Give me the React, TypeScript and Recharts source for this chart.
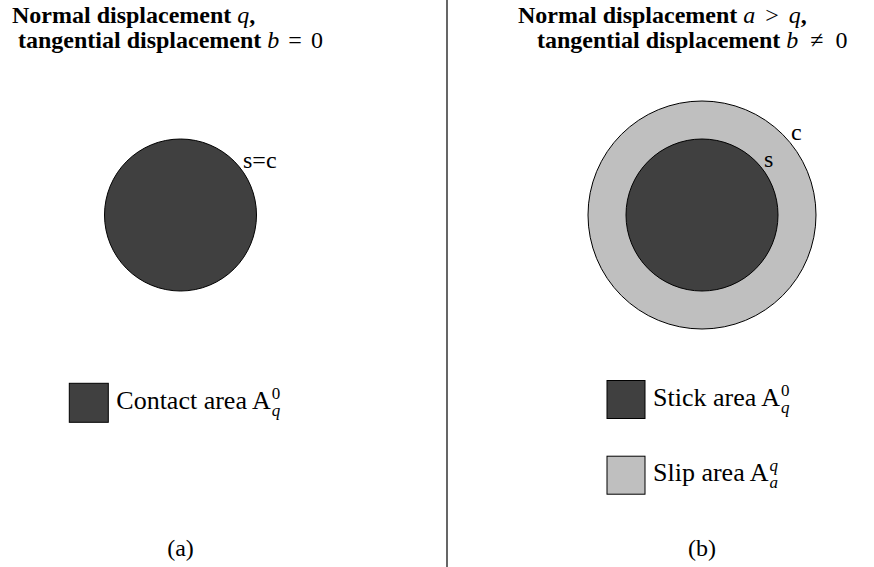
import { ReferenceLine, Scatter, ScatterChart, XAxis, YAxis } from 'recharts';

const WIDTH = 874;
const HEIGHT = 567;

// the diagram is drawn in page pixels: x 0..874, y 0..567 (top down)
const CIRCLE_NAMES = ['contact', 'slip', 'stick'];
const CIRCLE_X = [180.5, 702, 702];
const CIRCLE_Y = [215, 215, 215];
const CIRCLE_R = [76, 114, 76];

const KEY_NAMES = ['contact', 'stick', 'slip'];
const KEY_TEXT = ['Contact area A', 'Stick area A', 'Slip area A'];
const KEY_SUP = ['0', '0', 'q'];
const KEY_SUB = ['q', 'q', 'a'];
const KEY_X = [88.8, 626, 626];
const KEY_Y = [402.8, 399.5, 475.2];
const KEY_SIZE = [39, 38, 38];

const BOUNDARY_TEXT = ['s=c', 'c', 's'];
const BOUNDARY_X = [243, 791, 764];
const BOUNDARY_Y = [168, 140, 167];

const PANEL_TEXT = ['(a)', '(b)'];
const PANEL_X = [180.5, 702];
const PANEL_Y = 556;

const DIVIDER_X = 447;

const FILLS: Record<string, string> = {
  contact: '#404040',
  stick: '#404040',
  slip: '#bfbfbf',
};

const circles = CIRCLE_NAMES.map((name, i) => ({ name, x: CIRCLE_X[i], y: CIRCLE_Y[i], r: CIRCLE_R[i] }));
const keys = KEY_NAMES.map((name, i) => ({ name, x: KEY_X[i], y: KEY_Y[i], size: KEY_SIZE[i] }));

const FONT = '"Liberation Serif", "Times New Roman", serif';

// one data unit is one pixel on both axes, so radii can be used as they are
const CircleShape = (props: any) => {
  const { cx, cy, payload } = props;
  return <circle cx={cx} cy={cy} r={payload.r} fill={FILLS[payload.name]} stroke="#000" strokeWidth={1} />;
};

const KeyShape = (props: any) => {
  const { cx, cy, payload } = props;
  const s = payload.size;
  return <rect x={cx - s / 2} y={cy - s / 2} width={s} height={s} fill={FILLS[payload.name]} stroke="#000" strokeWidth={1} />;
};

const math = { fontStyle: 'italic', fontWeight: 'normal' } as const;

export default function App() {
  return (
    <div style={{ position: 'absolute', left: 0, top: 0, width: WIDTH, height: HEIGHT, background: '#fff' }}>
      <ScatterChart width={WIDTH} height={HEIGHT} margin={{ top: 0, right: 0, bottom: 0, left: 0 }}>
        <XAxis type="number" dataKey="x" domain={[0, WIDTH]} allowDataOverflow hide />
        <YAxis type="number" dataKey="y" domain={[0, HEIGHT]} reversed allowDataOverflow hide />
        <ReferenceLine x={DIVIDER_X} stroke="#000" strokeWidth={1.2} />
        <Scatter data={circles} shape={CircleShape} isAnimationActive={false} />
        <Scatter data={keys} shape={KeyShape} isAnimationActive={false} />
      </ScatterChart>

      {/* text sits on its own layer so the circles never cover it */}
      <svg
        width={WIDTH}
        height={HEIGHT}
        style={{ position: 'absolute', left: 0, top: 0, pointerEvents: 'none' }}
        fontFamily={FONT}
        fontSize={24}
        fill="#000"
      >
        <text x={12} y={23} fontWeight="bold">
          Normal displacement <tspan style={math}>q</tspan>,
        </text>
        <text x={18} y={48} fontWeight="bold">
          tangential displacement <tspan style={math}>b</tspan>
          <tspan fontWeight="normal" dx={9}>=</tspan>
          <tspan fontWeight="normal" dx={9}>0</tspan>
        </text>
        <text x={518} y={23} fontWeight="bold">
          Normal displacement <tspan style={math}>a</tspan>
          <tspan fontWeight="normal" dx={10}>&gt;</tspan>
          <tspan style={math} dx={10}>q</tspan>,
        </text>
        <text x={537} y={48} fontWeight="bold">
          tangential displacement <tspan style={math}>b</tspan>
          <tspan fontWeight="normal" dx={12}>≠</tspan>
          <tspan fontWeight="normal" dx={12}>0</tspan>
        </text>

        {BOUNDARY_TEXT.map((t, i) => (
          <text key={t} x={BOUNDARY_X[i]} y={BOUNDARY_Y[i]}>
            {t}
          </text>
        ))}

        {keys.map((k, i) => (
          <text key={k.name} x={k.x + k.size / 2 + 8} y={k.y + 6} fontSize={26}>
            {KEY_TEXT[i]}
            <tspan dx={1} dy={-10} fontSize={17} fontStyle={KEY_SUP[i] === '0' ? 'normal' : 'italic'}>
              {KEY_SUP[i]}
            </tspan>
            <tspan dx={-8.5} dy={17} fontSize={17} fontStyle="italic">
              {KEY_SUB[i]}
            </tspan>
          </text>
        ))}

        {PANEL_TEXT.map((t, i) => (
          <text key={t} x={PANEL_X[i]} y={PANEL_Y} textAnchor="middle">
            {t}
          </text>
        ))}
      </svg>
    </div>
  );
}
